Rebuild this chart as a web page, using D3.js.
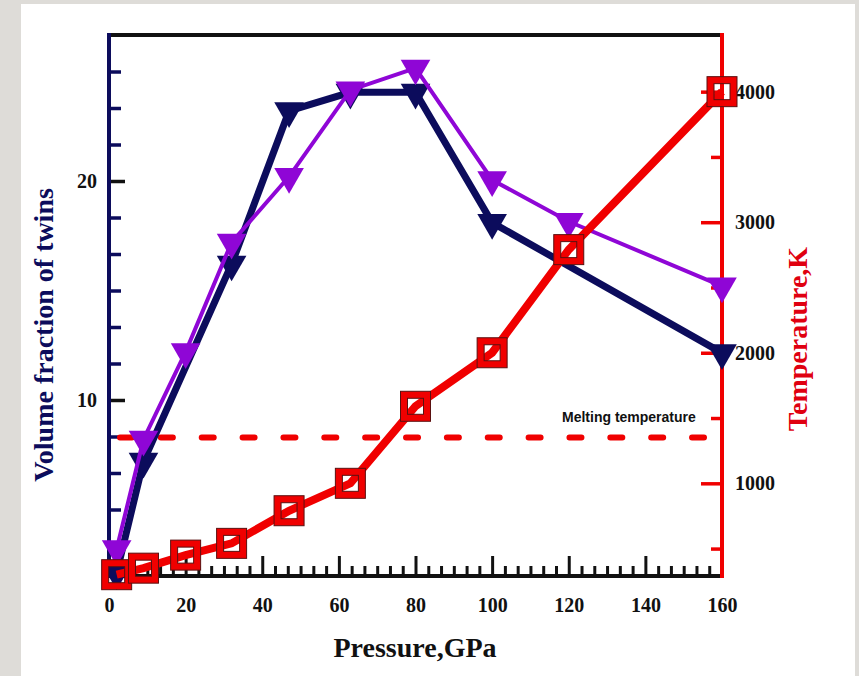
<!DOCTYPE html>
<html><head><meta charset="utf-8">
<script src="https://cdn.jsdelivr.net/npm/d3@7"></script>
<style>body{margin:0;background:#dedcd8;} svg{display:block}</style>
</head><body>
<script>
// ---- data ----
const pressureNavy = [2, 9, 32, 47, 63, 80, 100, 160];
const twinsNavy = [2.1, 7.2, 16.2, 23.2, 24.05, 24.05, 18.1, 12.15];
const pressurePurple = [2, 9, 20, 32, 47, 63, 80, 100, 120, 160];
const twinsPurple = [3.2, 8.2, 12.2, 17.2, 20.2, 24.15, 25.15, 20.05, 18.15, 15.2];
const pressureTemp = [2, 9, 20, 32, 47, 63, 80, 100, 120, 160];
const temperature = [300, 350, 450, 540, 790, 1000, 1590, 2000, 2790, 4000];
const meltingTemp = 1350;
const meltingLabel = "Melting temperature";
const xTickValues = [0, 20, 40, 60, 80, 100, 120, 140, 160];
const leftTickValues = [10, 20];
const rightTickValues = [1000, 2000, 3000, 4000];
const xTitle = "Pressure,GPa";
const leftTitle = "Volume fraction of twins";
const rightTitle = "Temperature,K";

const NAVY = "#0c0c5c", PURPLE = "#8f06d6", RED = "#f00000";
const W = 859, H = 676;
const L = 109, R = 722, T = 35, B = 576;

const svg = d3.select("body").append("svg").attr("width", W).attr("height", H);
svg.append("rect").attr("x", 21).attr("y", 4).attr("width", 834).attr("height", H - 4).attr("fill", "#fff");

const x = d3.scaleLinear().domain([0, 160]).range([L, R]);
const yL = d3.scaleLinear().domain([1.963, 26.667]).range([B, T]);
const yR = d3.scaleLinear().domain([290, 4434]).range([B, T]);

const serif = "'Liberation Serif', 'Times New Roman', serif";

function styleAxis(g, color, width) {
  g.select(".domain").remove();
  g.selectAll(".tick line").attr("stroke", color).attr("stroke-width", width);
  g.selectAll(".tick text").attr("fill", "#111").style("font-family", serif)
    .style("font-weight", "bold").style("font-size", "20px");
}

// bottom axis minor & major
const xMinor = d3.range(0, 160.001, 20 / 6).filter(v => Math.abs(v / 20 - Math.round(v / 20)) > 1e-6);
svg.append("g").attr("transform", `translate(0,${B})`)
  .call(d3.axisBottom(x).tickValues(xMinor).tickSizeInner(-10).tickSizeOuter(0).tickFormat(""))
  .call(g => styleAxis(g, "#111", 3));
svg.append("g").attr("transform", `translate(0,${B})`)
  .call(d3.axisBottom(x).tickValues(xTickValues).tickSizeInner(-20).tickSizeOuter(0).tickPadding(22).tickFormat(d3.format("d")))
  .call(g => styleAxis(g, "#111", 3));

// left axis
const yMinor = d3.range(1, 16).map(k => k * 10 / 6).filter(v => v > 2.5 && Math.abs(v / 10 - Math.round(v / 10)) > 1e-6);
svg.append("g").attr("transform", `translate(${L},0)`)
  .call(d3.axisLeft(yL).tickValues(yMinor).tickSizeInner(-12).tickSizeOuter(0).tickFormat(""))
  .call(g => styleAxis(g, NAVY, 3.5));
svg.append("g").attr("transform", `translate(${L},0)`)
  .call(d3.axisLeft(yL).tickValues(leftTickValues).tickSizeInner(-16).tickSizeOuter(0).tickPadding(12).tickFormat(d3.format("d")))
  .call(g => styleAxis(g, "#111", 3.5));

// right axis
const rMinor = [500, 1500, 2500, 3500];
svg.append("g").attr("transform", `translate(${R},0)`)
  .call(d3.axisRight(yR).tickValues(rMinor).tickSizeInner(-11).tickSizeOuter(0).tickFormat(""))
  .call(g => styleAxis(g, RED, 3.5));
svg.append("g").attr("transform", `translate(${R},0)`)
  .call(d3.axisRight(yR).tickValues(rightTickValues).tickSizeInner(-21).tickSizeOuter(0).tickPadding(13).tickFormat(d3.format("d")))
  .call(g => styleAxis(g, RED, 3.5));

// frame lines
svg.append("line").attr("x1", L - 2).attr("x2", R).attr("y1", T).attr("y2", T).attr("stroke", "#111").attr("stroke-width", 4);
svg.append("line").attr("x1", L).attr("x2", R).attr("y1", B).attr("y2", B).attr("stroke", "#111").attr("stroke-width", 4);
svg.append("line").attr("x1", L).attr("x2", L).attr("y1", T - 2).attr("y2", B + 2).attr("stroke", NAVY).attr("stroke-width", 4);
svg.append("line").attr("x1", R).attr("x2", R).attr("y1", T - 2).attr("y2", B + 2).attr("stroke", RED).attr("stroke-width", 4);

// titles
svg.append("text").attr("x", 415).attr("y", 657).attr("text-anchor", "middle")
  .style("font-family", serif).style("font-weight", "bold").style("font-size", "28px").attr("fill", "#111").text(xTitle);
svg.append("text").attr("transform", "translate(53,335) rotate(-90)").attr("text-anchor", "middle")
  .style("font-family", serif).style("font-weight", "bold").style("font-size", "28px").attr("fill", NAVY).text(leftTitle);
svg.append("text").attr("transform", "translate(807,339) rotate(-90)").attr("text-anchor", "middle")
  .style("font-family", serif).style("font-weight", "bold").style("font-size", "28px").attr("fill", "#e00010").text(rightTitle);

// melting line
svg.append("line").attr("x1", 120).attr("x2", 704).attr("y1", yR(meltingTemp)).attr("y2", yR(meltingTemp))
  .attr("stroke", RED).attr("stroke-width", 6).attr("stroke-linecap", "round").attr("stroke-dasharray", "12,28.86");
svg.append("text").attr("x", 562).attr("y", 422)
  .style("font-family", "'Liberation Sans', Arial, sans-serif").style("font-weight", "bold").style("font-size", "14px")
  .attr("fill", "#111").text(meltingLabel);

// series
const tri = d3.symbol().type(d3.symbolTriangle).size(380);
function triSeries(px, vals, color, lw) {
  const pts = px.map((p, i) => [x(p), yL(vals[i])]);
  svg.append("path").attr("d", d3.line()(pts)).attr("fill", "none").attr("stroke", color)
    .attr("stroke-width", lw).attr("stroke-linejoin", "miter");
  svg.append("g").selectAll("path").data(pts).join("path")
    .attr("d", tri).attr("transform", d => `translate(${d[0]},${d[1]}) rotate(180)`).attr("fill", color);
}
triSeries(pressureNavy, twinsNavy, NAVY, 7);
triSeries(pressurePurple, twinsPurple, PURPLE, 4);

const rpts = pressureTemp.map((p, i) => [x(p), yR(temperature[i])]);
svg.append("path").attr("d", d3.line()(rpts)).attr("fill", "none").attr("stroke", RED).attr("stroke-width", 8);
const sq = svg.append("g").selectAll("g").data(rpts).join("g").attr("transform", d => `translate(${d[0]},${d[1]})`);
sq.append("rect").attr("x", -11.5).attr("y", -11.5).attr("width", 23).attr("height", 23)
  .attr("fill", "none").attr("stroke", RED).attr("stroke-width", 7);
sq.append("rect").attr("x", -15).attr("y", -15).attr("width", 30).attr("height", 30)
  .attr("fill", "none").attr("stroke", "#5a1010").attr("stroke-width", 1);
sq.append("rect").attr("x", -8).attr("y", -8).attr("width", 16).attr("height", 16)
  .attr("fill", "none").attr("stroke", "#5a1010").attr("stroke-width", 1);
</script>
</body></html>
